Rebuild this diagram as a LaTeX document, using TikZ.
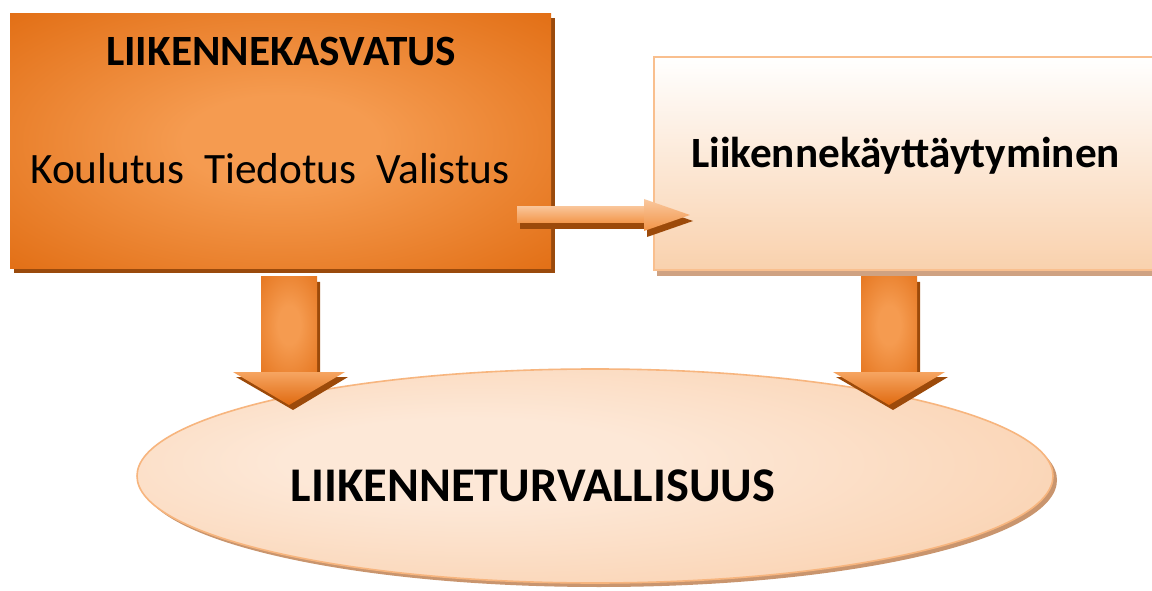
\documentclass[tikz,border=0pt]{standalone}
\usepackage{fontspec}
\setmainfont{Carlito}
\usetikzlibrary{shapes.geometric}
\definecolor{lboxin}{HTML}{F59B50}
\definecolor{lboxout}{HTML}{DF680C}
\definecolor{lshadow}{HTML}{9A4A0C}
\definecolor{rtop}{HTML}{FFFFFF}
\definecolor{rbot}{HTML}{F9D1AD}
\definecolor{rborder}{HTML}{F9BF8E}
\definecolor{rshadow}{HTML}{CFA282}
\definecolor{ein}{HTML}{FDE8D7}
\definecolor{eout}{HTML}{F8C69C}
\definecolor{eborder}{HTML}{F7B57E}
\definecolor{eshadow}{HTML}{C9956E}
\definecolor{adark}{HTML}{E06A10}
\definecolor{alight}{HTML}{F59B50}
\definecolor{ashadow}{HTML}{9C4A0A}
\pgfdeclareradialshading{boxrad}{\pgfpoint{0bp}{0bp}}{color(0bp)=(lboxin); color(9bp)=(lboxin); color(40bp)=(lboxout); color(80bp)=(lboxout)}
\pgfdeclareradialshading{ellrad}{\pgfpoint{-8bp}{4bp}}{color(0bp)=(ein); color(10bp)=(ein); color(48bp)=(eout); color(80bp)=(eout)}
\pgfdeclareradialshading{arrrad}{\pgfpoint{0bp}{0bp}}{color(0bp)=(alight); color(10bp)=(alight); color(46bp)=(adark); color(80bp)=(adark)}
\tikzset{
  bigtext/.style={font=\bfseries\fontsize{32.4}{36}\selectfont, anchor=base, inner sep=0pt},
  regtext/.style={font=\fontsize{32.5}{36}\selectfont, anchor=base, inner sep=0pt},
  elltext/.style={font=\bfseries\fontsize{36.3}{40}\selectfont, anchor=base, inner sep=0pt},
  shaftfill/.style={shading=arrrad},
  headfill/.style={top color=alight!90!white, bottom color=adark},
  rshaftfill/.style={top color=alight!60!white, bottom color=alight!90!adark},
}
\begin{document}
\begin{tikzpicture}[x=0.75pt,y=-0.75pt]
\clip (0,0) rectangle (1152,591);
\fill[white] (0,0) rectangle (1152,591);

% ---- ellipse (bottom) ----
\fill[eshadow] (599,480) ellipse [x radius=458, y radius=107];
\node[ellipse, draw=eborder, line width=1.2pt, inner sep=0pt,
      minimum width=687pt, minimum height=160.5pt,
      shading=ellrad] (ell) at (595,476) {};
\node[elltext] (tsafe) at (533,501) {LIIKENNETURVALLISUUS};

% ---- left box ----
\fill[lshadow] (14,18) rectangle (555,273);
\node[rectangle, inner sep=0pt, minimum width=405.75pt, minimum height=191.25pt,
      shading=boxrad] (lbox) at (280.5,141.5) {};
\node[bigtext] (tedu) at (281,66) {LIIKENNEKASVATUS};
\node[regtext] (tktv) at (270,184) {Koulutus\ \ Tiedotus\ \ Valistus};

% ---- right box ----
\fill[rshadow] (657,63) rectangle (1170,276);
\node[rectangle, inner sep=0pt, draw=rborder, line width=1.2pt,
      minimum width=385.5pt, minimum height=159.75pt,
      top color=rtop, bottom color=rbot] (rbox) at (911,163.5) {};
\node[bigtext] (tbeh) at (905.5,168) {Liikennekäyttäytyminen};

% ---- right arrow ----
\fill[ashadow] (520,213) -- (647,213) -- (647,205) -- (693,221) -- (647,237) -- (647,229) -- (520,229) -- cycle;
\path[rshaftfill] (517,207) rectangle (645,223);
\path[top color=alight!55!white, bottom color=alight!85!adark] (644,199) -- (690,215) -- (644,231) -- cycle;

% ---- left down arrow ----
\fill[ashadow] (264,282) -- (320,282) -- (320,377) -- (348,377) -- (293,410) -- (236,377) -- (264,377) -- cycle;
\path[shaftfill] (261,277) rectangle (317,373);
\path[headfill] (233,372) -- (345,372) -- (289,405) -- cycle;

% ---- right down arrow ----
\fill[ashadow] (864,282) -- (920,282) -- (920,377) -- (948,377) -- (893,410) -- (836,377) -- (864,377) -- cycle;
\path[shaftfill] (861,277) rectangle (917,373);
\path[headfill] (833,372) -- (945,372) -- (889,405) -- cycle;
\end{tikzpicture}
\end{document}
